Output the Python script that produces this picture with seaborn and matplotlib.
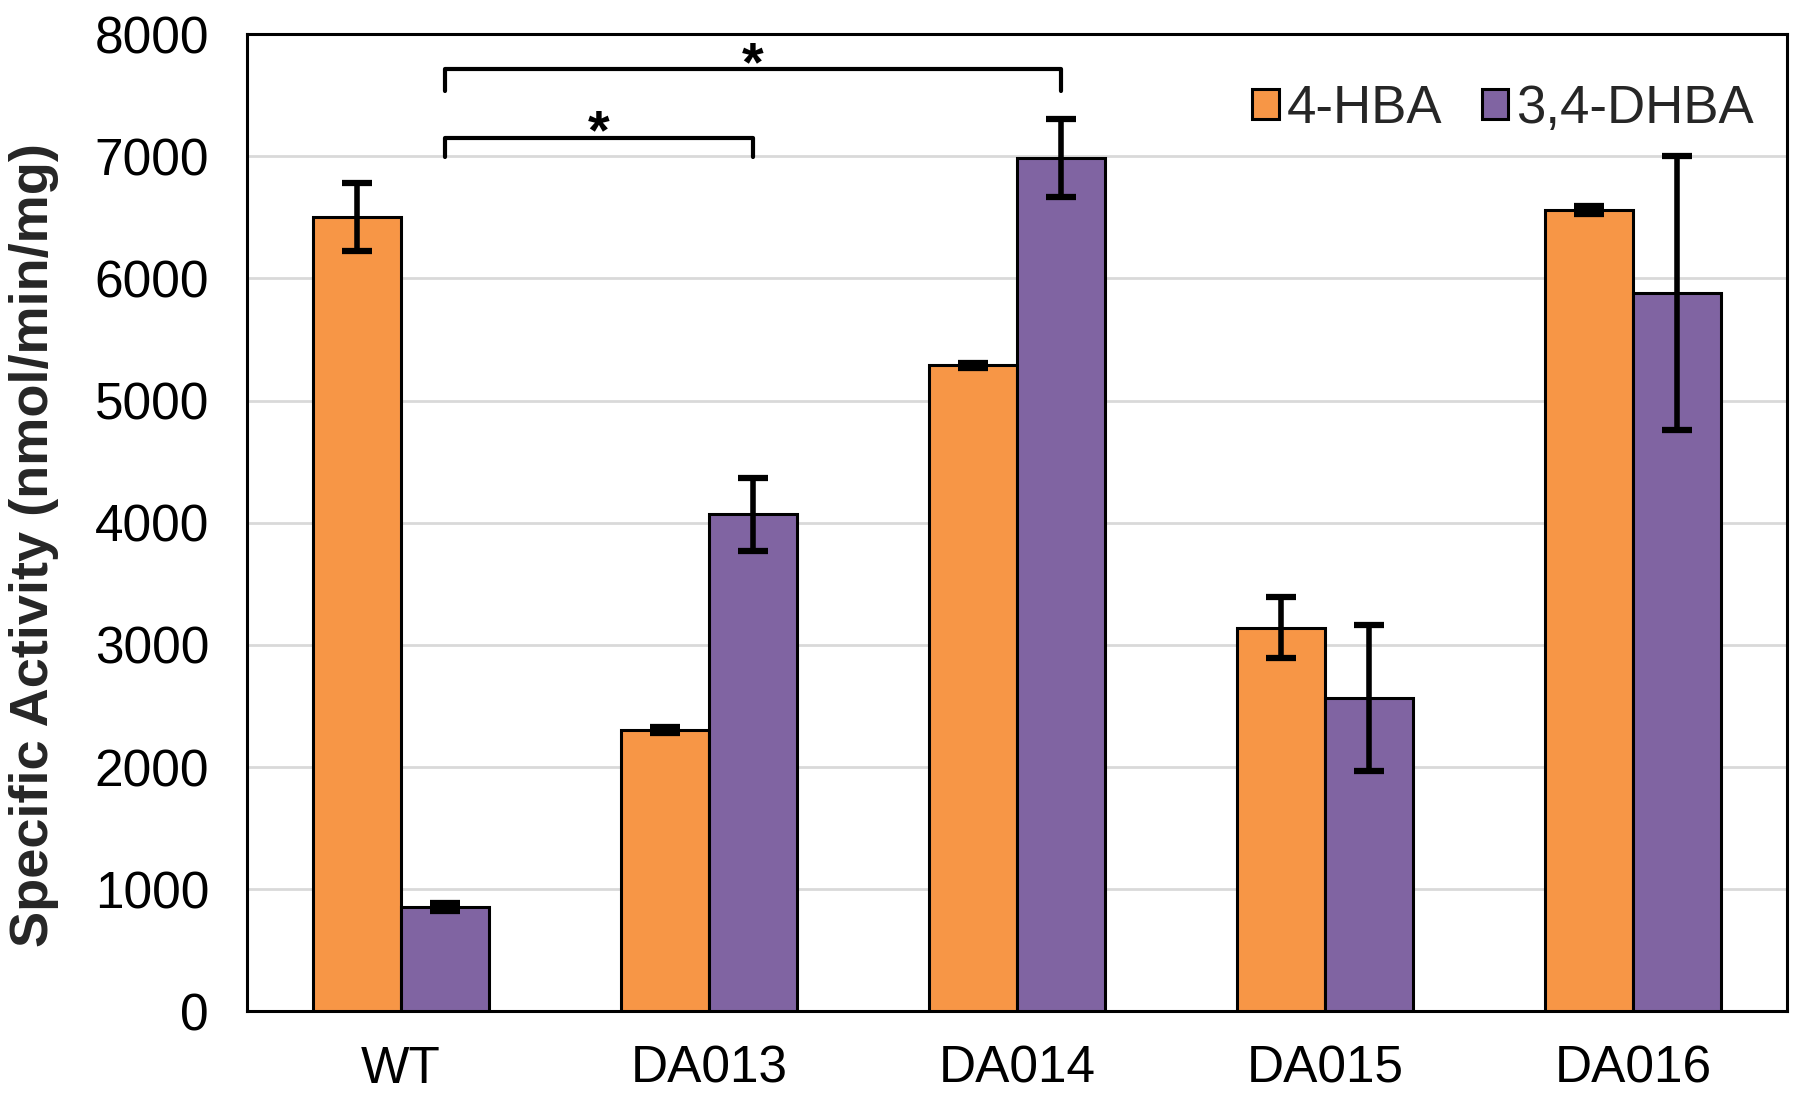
import numpy as np
import pandas as pd
import matplotlib
matplotlib.use("Agg")
import matplotlib.pyplot as plt
import seaborn as sns

# data
strains = ["WT", "DA013", "DA014", "DA015", "DA016"]
substrates = ["4-HBA", "3,4-DHBA"]
hba_mean = [6500, 2300, 5290, 3140, 6560]
hba_err = [280, 25, 20, 250, 30]
dhba_mean = [855, 4070, 6985, 2565, 5880]
dhba_err = [35, 300, 320, 600, 1120]
colors = ["#F79646", "#8064A2"]

df = pd.DataFrame({
    "strain": strains * 2,
    "substrate": [substrates[0]] * 5 + [substrates[1]] * 5,
    "activity": hba_mean + dhba_mean,
})
errs = [hba_err, dhba_err]
means = [hba_mean, dhba_mean]

sns.set_style("white")
plt.rcParams["font.family"] = ["Liberation Sans", "DejaVu Sans"]

fig, ax = plt.subplots(figsize=(18, 10.97), dpi=100)
fig.subplots_adjust(left=0.137, right=0.993, top=0.969, bottom=0.078)

sns.barplot(data=df, x="strain", y="activity", hue="substrate",
            order=strains, hue_order=substrates, palette=colors,
            width=0.57, edgecolor="black", linewidth=2.2, errorbar=None,
            saturation=1, ax=ax, zorder=3)

# error bars on top of each bar
for cont, m, e in zip(ax.containers, means, errs):
    xs = [p.get_x() + p.get_width() / 2 for p in cont.patches]
    ax.errorbar(xs, m, yerr=e, fmt="none", ecolor="black",
                elinewidth=4, capsize=11, capthick=4.5, zorder=4)

ax.set_ylim(0, 8000)
ax.set_xlim(-0.5, 4.5)
ax.set_yticks(np.arange(0, 8001, 1000))
ax.yaxis.grid(True, color="#D9D9D9", linewidth=2, zorder=0)
ax.set_axisbelow(True)
for s in ax.spines.values():
    s.set_color("black")
    s.set_linewidth(2.2)

ax.tick_params(axis="both", length=0, labelsize=37, colors="black")
ax.tick_params(axis="y", pad=27)
ax.tick_params(axis="x", pad=24)
ax.set_xlabel("")
ax.set_ylabel("Specific Activity (nmol/min/mg)", fontsize=39,
              fontweight="bold")
ax.yaxis.set_label_coords(-0.122, 0.477)

# significance brackets (from WT purple bar to DA013 / DA014 purple bars)
bar_x = [p.get_x() + p.get_width() / 2 for p in ax.containers[1].patches]
brackets = [(0, 1, 7150, 6990), (0, 2, 7710, 7530)]
for i, j, ytop, ybot in brackets:
    x1, x2 = bar_x[i], bar_x[j]
    ax.plot([x1, x1, x2, x2], [ybot, ytop, ytop, ybot], color="black",
            linewidth=3, zorder=5)
    ax.text((x1 + x2) / 2, ytop + 30, "*", ha="center", va="center",
            fontsize=40, fontweight="bold", color="black")

leg = ax.legend(loc="upper right", ncol=2, frameon=False, fontsize=38,
                handlelength=0.5, handleheight=0.5, handletextpad=0.15,
                columnspacing=0.75, borderaxespad=0.3,
                bbox_to_anchor=(1.002, 0.987))
for h in leg.legend_handles:
    h.set_edgecolor("black")
    h.set_linewidth(2.2)

fig.savefig("out.png", dpi=100)
